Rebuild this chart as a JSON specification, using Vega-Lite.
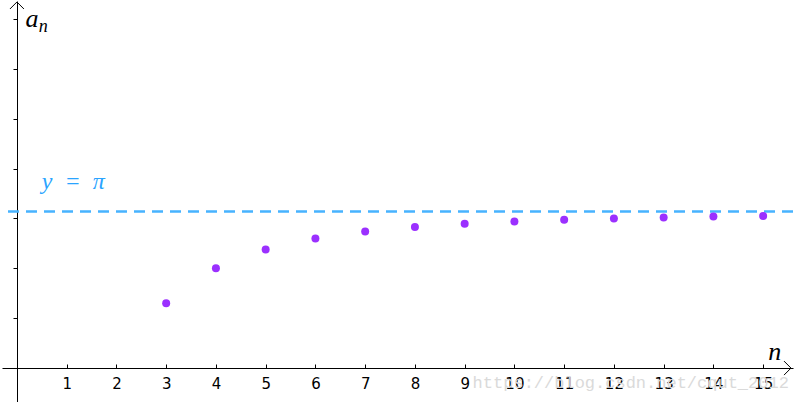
{
  "$schema": "https://vega.github.io/schema/vega-lite/v6.json",
  "width": 795,
  "height": 402,
  "padding": 0,
  "autosize": {"type": "fit", "contains": "padding"},
  "background": "white",
  "config": {"view": {"stroke": null}},
  "resolve": {"axis": {"x": "independent", "y": "independent"}},
  "layer": [
    {
      "data": {"values": [{"y": 3.14159}]},
      "mark": {"type": "rule", "color": "#47b3ff", "strokeWidth": 2.5, "strokeDash": [11, 7]},
      "encoding": {
        "y": {"field": "y", "type": "quantitative", "scale": {"domain": [-0.68, 7.36], "nice": false, "zero": false}, "axis": null}
      }
    },
    {
      "data": {"values": [
        {"n": 3, "a": 1.299}, {"n": 4, "a": 2.0}, {"n": 5, "a": 2.378}, {"n": 6, "a": 2.598},
        {"n": 7, "a": 2.736}, {"n": 8, "a": 2.828}, {"n": 9, "a": 2.893}, {"n": 10, "a": 2.939},
        {"n": 11, "a": 2.974}, {"n": 12, "a": 3.0}, {"n": 13, "a": 3.021}, {"n": 14, "a": 3.037},
        {"n": 15, "a": 3.051}
      ]},
      "mark": {"type": "point", "filled": true, "shape": "circle", "size": 64, "color": "#9b30ff", "opacity": 1},
      "encoding": {
        "x": {"field": "n", "type": "quantitative", "scale": {"domain": [-0.3, 15.6], "nice": false, "zero": false},
          "axis": {"title": null, "orient": "bottom", "offset": -34, "values": [1,2,3,4,5,6,7,8,9,10,11,12,13,14,15],
            "grid": false, "domainColor": "black", "domainWidth": 1, "tickColor": "black", "tickWidth": 1, "tickSize": -4,
            "labelFont": "DejaVu Sans", "labelFontSize": 15, "labelColor": "black", "labelPadding": 12, "labelFlush": false, "labelOverlap": false}},
        "y": {"field": "a", "type": "quantitative", "scale": {"domain": [-0.68, 7.36], "nice": false, "zero": false},
          "axis": {"title": null, "orient": "left", "offset": -15, "values": [1,2,3,4,5,6,7],
            "grid": false, "domainColor": "black", "domainWidth": 1, "tickColor": "black", "tickWidth": 1, "tickSize": 4, "labels": false}}
      }
    },
    {
      "data": {"values": [
        {"x": 15.56, "y": 0, "s": "M -1 -1 L 0 0 L -1 1"},
        {"x": 0, "y": 7.34, "s": "M -1 1 L 0 0 L 1 1"}
      ]},
      "mark": {"type": "point", "filled": false, "stroke": "black", "strokeWidth": 1, "size": 196, "opacity": 1},
      "encoding": {
        "x": {"field": "x", "type": "quantitative", "scale": {"domain": [-0.3, 15.6], "nice": false, "zero": false}, "axis": null},
        "y": {"field": "y", "type": "quantitative", "scale": {"domain": [-0.68, 7.36], "nice": false, "zero": false}, "axis": null},
        "shape": {"field": "s", "type": "nominal", "scale": null, "legend": null}
      }
    },
    {
      "data": {"values": [
        {"x": 0.17, "y": 6.84, "t": "a"},
        {"x": 15.1, "y": 0.16, "t": "n"}
      ]},
      "mark": {"type": "text", "font": "Liberation Serif", "fontStyle": "italic", "fontSize": 26, "align": "left", "baseline": "alphabetic", "color": "black"},
      "encoding": {
        "x": {"field": "x", "type": "quantitative", "scale": {"domain": [-0.3, 15.6], "nice": false, "zero": false}, "axis": null},
        "y": {"field": "y", "type": "quantitative", "scale": {"domain": [-0.68, 7.36], "nice": false, "zero": false}, "axis": null},
        "text": {"field": "t"}
      }
    },
    {
      "data": {"values": [{"x": 0.44, "y": 6.74, "t": "n"}]},
      "mark": {"type": "text", "font": "Liberation Serif", "fontStyle": "italic", "fontSize": 18, "align": "left", "baseline": "alphabetic", "color": "black"},
      "encoding": {
        "x": {"field": "x", "type": "quantitative", "scale": {"domain": [-0.3, 15.6], "nice": false, "zero": false}, "axis": null},
        "y": {"field": "y", "type": "quantitative", "scale": {"domain": [-0.68, 7.36], "nice": false, "zero": false}, "axis": null},
        "text": {"field": "t"}
      }
    },
    {
      "data": {"values": [{"x": 0.5, "y": 3.6, "t": "y\u2002=\u2002π"}]},
      "mark": {"type": "text", "font": "Liberation Serif", "fontStyle": "italic", "fontSize": 24, "align": "left", "baseline": "alphabetic", "color": "#2aa4ff"},
      "encoding": {
        "x": {"field": "x", "type": "quantitative", "scale": {"domain": [-0.3, 15.6], "nice": false, "zero": false}, "axis": null},
        "y": {"field": "y", "type": "quantitative", "scale": {"domain": [-0.68, 7.36], "nice": false, "zero": false}, "axis": null},
        "text": {"field": "t"}
      }
    },
    {
      "data": {"values": [{"x": 9.16, "y": -0.4, "t": "https://blog.csdn.net/cqut_2012"}]},
      "mark": {"type": "text", "font": "Liberation Mono", "fontSize": 17, "align": "left", "baseline": "alphabetic", "color": "#dadada"},
      "encoding": {
        "x": {"field": "x", "type": "quantitative", "scale": {"domain": [-0.3, 15.6], "nice": false, "zero": false}, "axis": null},
        "y": {"field": "y", "type": "quantitative", "scale": {"domain": [-0.68, 7.36], "nice": false, "zero": false}, "axis": null},
        "text": {"field": "t"}
      }
    }
  ]
}
